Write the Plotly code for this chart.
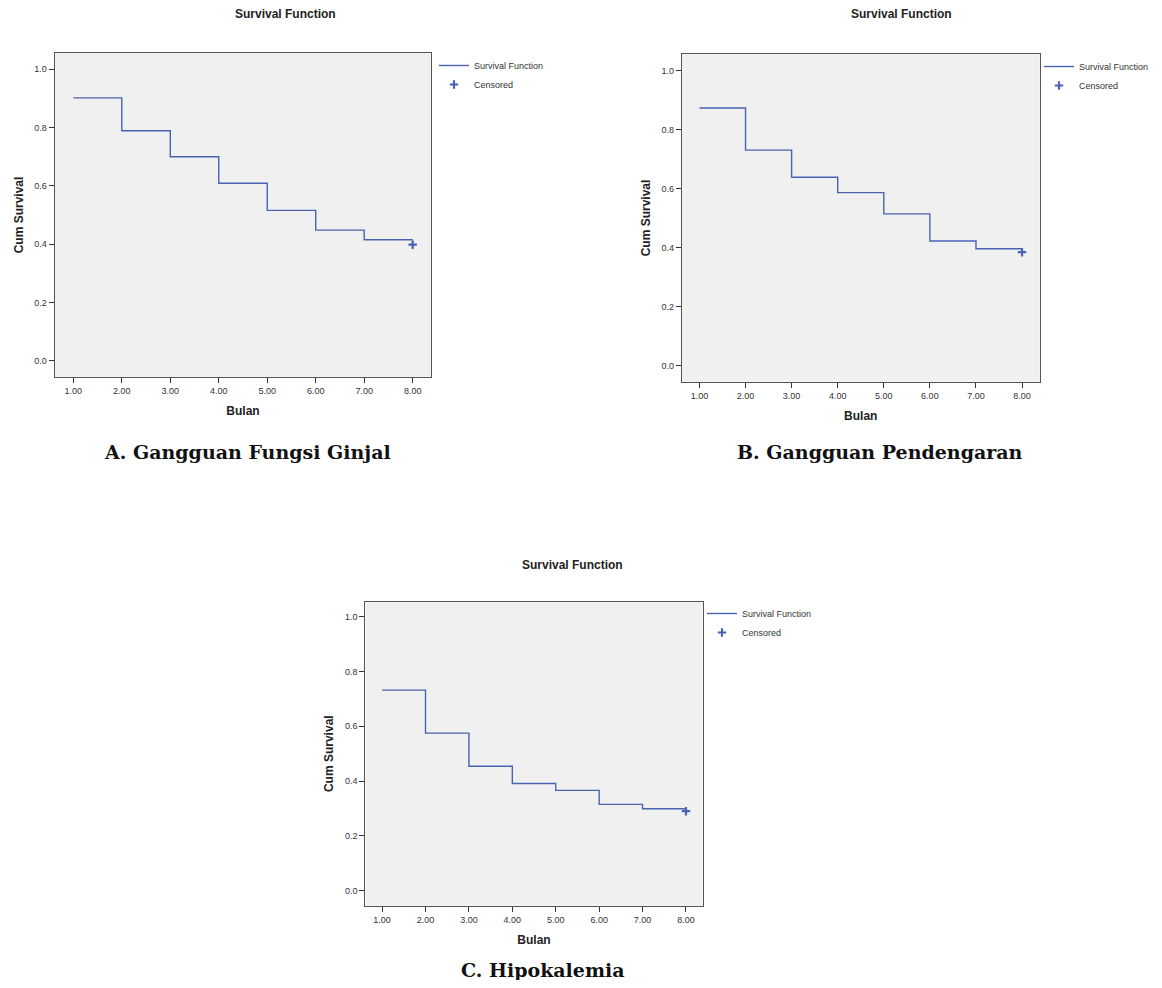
import plotly.graph_objects as go

# ---- data ----
bulan = [1, 2, 3, 4, 5, 6, 7, 8]
x_ticks = [1, 2, 3, 4, 5, 6, 7, 8]
y_ticks = [0.0, 0.2, 0.4, 0.6, 0.8, 1.0]

surv_a = [0.902, 0.789, 0.700, 0.609, 0.516, 0.448, 0.415, 0.415]
cens_a = 0.398
surv_b = [0.873, 0.730, 0.638, 0.586, 0.514, 0.422, 0.396, 0.396]
cens_b = 0.384
surv_c = [0.732, 0.575, 0.454, 0.391, 0.366, 0.315, 0.299, 0.299]
cens_c = 0.290
cens_time = 8

captions = ["A. Gangguan Fungsi Ginjal", "B. Gangguan Pendengaran", "C. Hipokalemia"]
chart_title = "Survival Function"
x_title = "Bulan"
y_title = "Cum Survival"

# page body has an 8px margin; lay out in screen px and shift
OFF = 8
W, H = 1162 - 2 * OFF, 988 - 2 * OFF
BLUE = "#4A62B4"
SANS = "Liberation Sans, Arial, sans-serif"
SERIF = "DejaVu Serif, serif"

panels = [
    dict(s=surv_a, c=cens_a, ax="", box=(54.7, 431.7, 53.3, 376.7), leg=(434, 51), title=(286, 14), cap=(248, 452)),
    dict(s=surv_b, c=cens_b, ax="2", box=(682.3, 1040.7, 54.3, 381.7), leg=(1040, 52), title=(902, 14), cap=(881, 452)),
    dict(s=surv_c, c=cens_c, ax="3", box=(365.7, 703.3, 601.7, 905.7), leg=(702, 599), title=(573, 565), cap=(543, 970)),
]


def px_x(v):
    return (v - OFF) / W


def px_y(v):
    return 1 - (v - OFF) / H


fig = go.Figure()
annotations = []
layout = {}
for i, p in enumerate(panels):
    ax = p["ax"]
    lg = "legend" if i == 0 else f"legend{i+1}"
    xa = "x" + ax
    ya = "y" + ax
    fig.add_trace(go.Scatter(
        x=bulan, y=p["s"], mode="lines", line=dict(color=BLUE, width=1.4, shape="hv"),
        name="Survival Function", xaxis=xa, yaxis=ya, legend=lg, showlegend=True))
    fig.add_trace(go.Scatter(
        x=[cens_time], y=[p["c"]], mode="markers",
        marker=dict(symbol="cross-thin", size=6, line=dict(color=BLUE, width=2.2), color=BLUE),
        name="Censored", xaxis=xa, yaxis=ya, legend=lg, showlegend=True))
    l, r, t, b = p["box"]
    layout["xaxis" + ax] = dict(
        domain=[px_x(l), px_x(r)], anchor=ya, range=[0.615, 8.385],
        tickvals=x_ticks, tickformat=".2f", ticks="outside", ticklen=5, tickcolor="#333",
        tickfont=dict(family=SANS, size=9, color="#333"),
        showline=True, mirror=True, linecolor="#555", linewidth=1,
        showgrid=False, zeroline=False,
        title=dict(text="<b>" + x_title + "</b>", font=dict(family=SANS, size=12, color="#222"), standoff=12),
    )
    layout["yaxis" + ax] = dict(
        domain=[px_y(b), px_y(t)], anchor=xa, range=[-0.055, 1.055],
        tickvals=y_ticks, tickformat=".1f", ticks="outside", ticklen=5, tickcolor="#333",
        tickfont=dict(family=SANS, size=9, color="#333"),
        showline=True, mirror=True, linecolor="#555", linewidth=1,
        showgrid=False, zeroline=False,
        title=dict(text="<b>" + y_title + "</b>", font=dict(family=SANS, size=12, color="#222"), standoff=8),
    )
    lx, ly = p["leg"]
    layout[lg] = dict(x=px_x(lx), y=px_y(ly), xanchor="left", yanchor="top",
                      bgcolor="rgba(0,0,0,0)", font=dict(family=SANS, size=9, color="#333"),
                      itemwidth=30, tracegroupgap=0)
    tx, ty = p["title"]
    annotations.append(dict(text="<b>" + chart_title + "</b>", x=px_x(tx), y=px_y(ty), xref="paper", yref="paper",
                            showarrow=False, font=dict(family=SANS, size=12, color="#222"),
                            xanchor="center", yanchor="middle"))
    cx, cy = p["cap"]
    annotations.append(dict(text="<b>" + captions[i] + "</b>", x=px_x(cx), y=px_y(cy), xref="paper", yref="paper",
                            showarrow=False, font=dict(family=SERIF, size=19, color="#111"),
                            xanchor="center", yanchor="middle"))

fig.update_layout(
    width=W, height=H, margin=dict(l=0, r=0, t=0, b=0),
    paper_bgcolor="white", plot_bgcolor="#EFF0EF",
    annotations=annotations, **layout,
)
fig.write_html("out.html")
